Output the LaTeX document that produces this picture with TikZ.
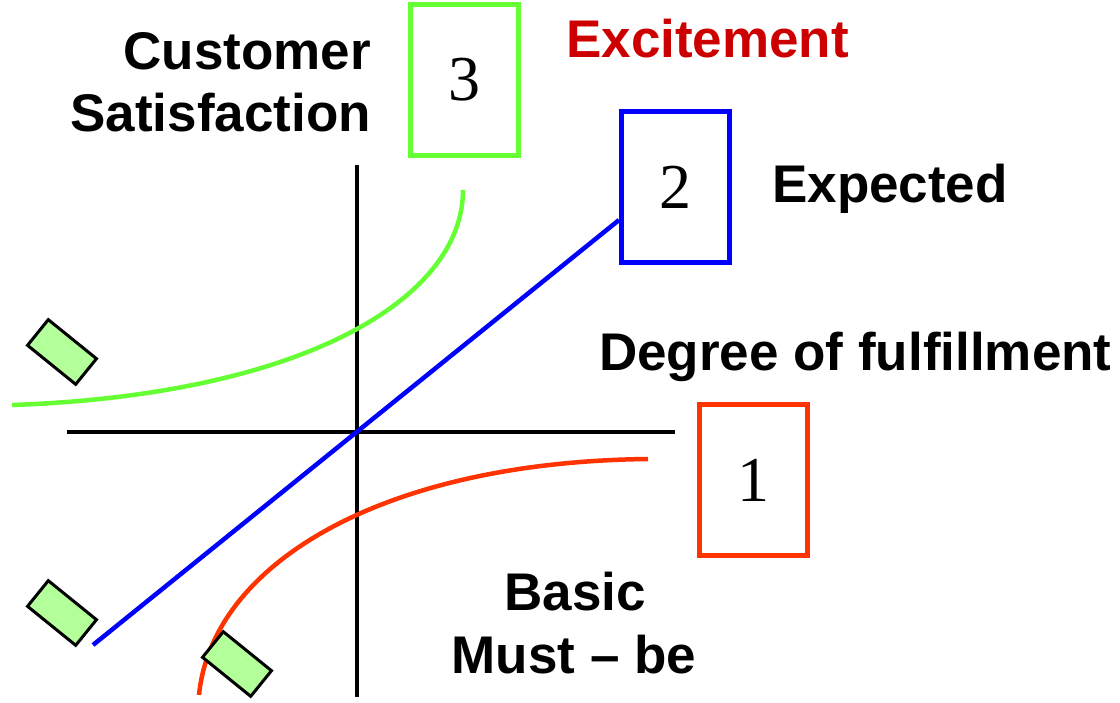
\documentclass[tikz,border=0pt]{standalone}
\usepackage{fontspec}
\setmainfont{Liberation Sans}
\newfontfamily\numfont{Liberation Serif}
\definecolor{exgreen}{HTML}{66FF33}
\definecolor{exblue}{HTML}{0000FF}
\definecolor{exred}{HTML}{FF3300}
\definecolor{txtred}{HTML}{CC0000}
\definecolor{rectfill}{HTML}{B3FF99}
\begin{document}
\begin{tikzpicture}[x=1pt,y=-1pt,
  lbl/.style={inner sep=0pt,font=\fontsize{53}{62}\selectfont\bfseries},
  numbox/.style={draw,line width=5pt,minimum width=108pt,minimum height=151pt,inner sep=0pt,font=\fontsize{64}{70}\selectfont\numfont},
  axis/.style={line width=4pt,black},
  curve/.style={line width=4.5pt},
  tag/.style={draw=black,line width=3pt,fill=rectfill,minimum width=62pt,minimum height=33pt,inner sep=0pt,rotate=-39}]
\useasboundingbox (0,0) rectangle (1120,703);
% axes
\coordinate (vt) at (357,165);
\coordinate (vb) at (357,697);
\coordinate (hl) at (67,432);
\coordinate (hr) at (675,432);
\draw[axis] (vt) -- (vb);
\draw[axis] (hl) -- (hr);
% boxes
\node[numbox,draw=exgreen] (b3) at (464,80) {3};
\node[numbox,draw=exblue] (b2) at (675.5,187) {2};
\node[numbox,draw=exred] (b1) at (753.5,480) {1};
% curves
\coordinate (gs) at (12,405);
\coordinate (ge) at (463,190);
\draw[curve,exgreen] (gs) .. controls (300,395) and (463,300) .. (ge);
\coordinate (rs) at (199,695);
\coordinate (re) at (648,459);
\draw[curve,exred] (rs) .. controls (212,565) and (380,462) .. (re);
\coordinate (bs) at (93,645);
\coordinate (be) at (b2.west |- 0,220);
\draw[curve,exblue] (bs) -- (be);
% tags
\node[tag] (t1) at (62,352) {};
\node[tag] (t2) at (62,613) {};
\node[tag] (t3) at (237,664) {};
% labels
\node[lbl,anchor=base east] (cs1) at (371,70) {Customer};
\node[lbl,anchor=base east] (cs2) at (371,132) {Satisfaction};
\node[lbl,anchor=base west,text=txtred] (ex) at (566,58) {Excitement};
\node[lbl,anchor=base west] (exp) at (772,203) {Expected};
\node[lbl,anchor=base west] (deg) at (599,371) {Degree of fulfillment};
\node[lbl,anchor=base] (bas) at (575,610) {Basic};
\node[lbl,anchor=base] (must) at (574,673) {Must – be};
\end{tikzpicture}
\end{document}
